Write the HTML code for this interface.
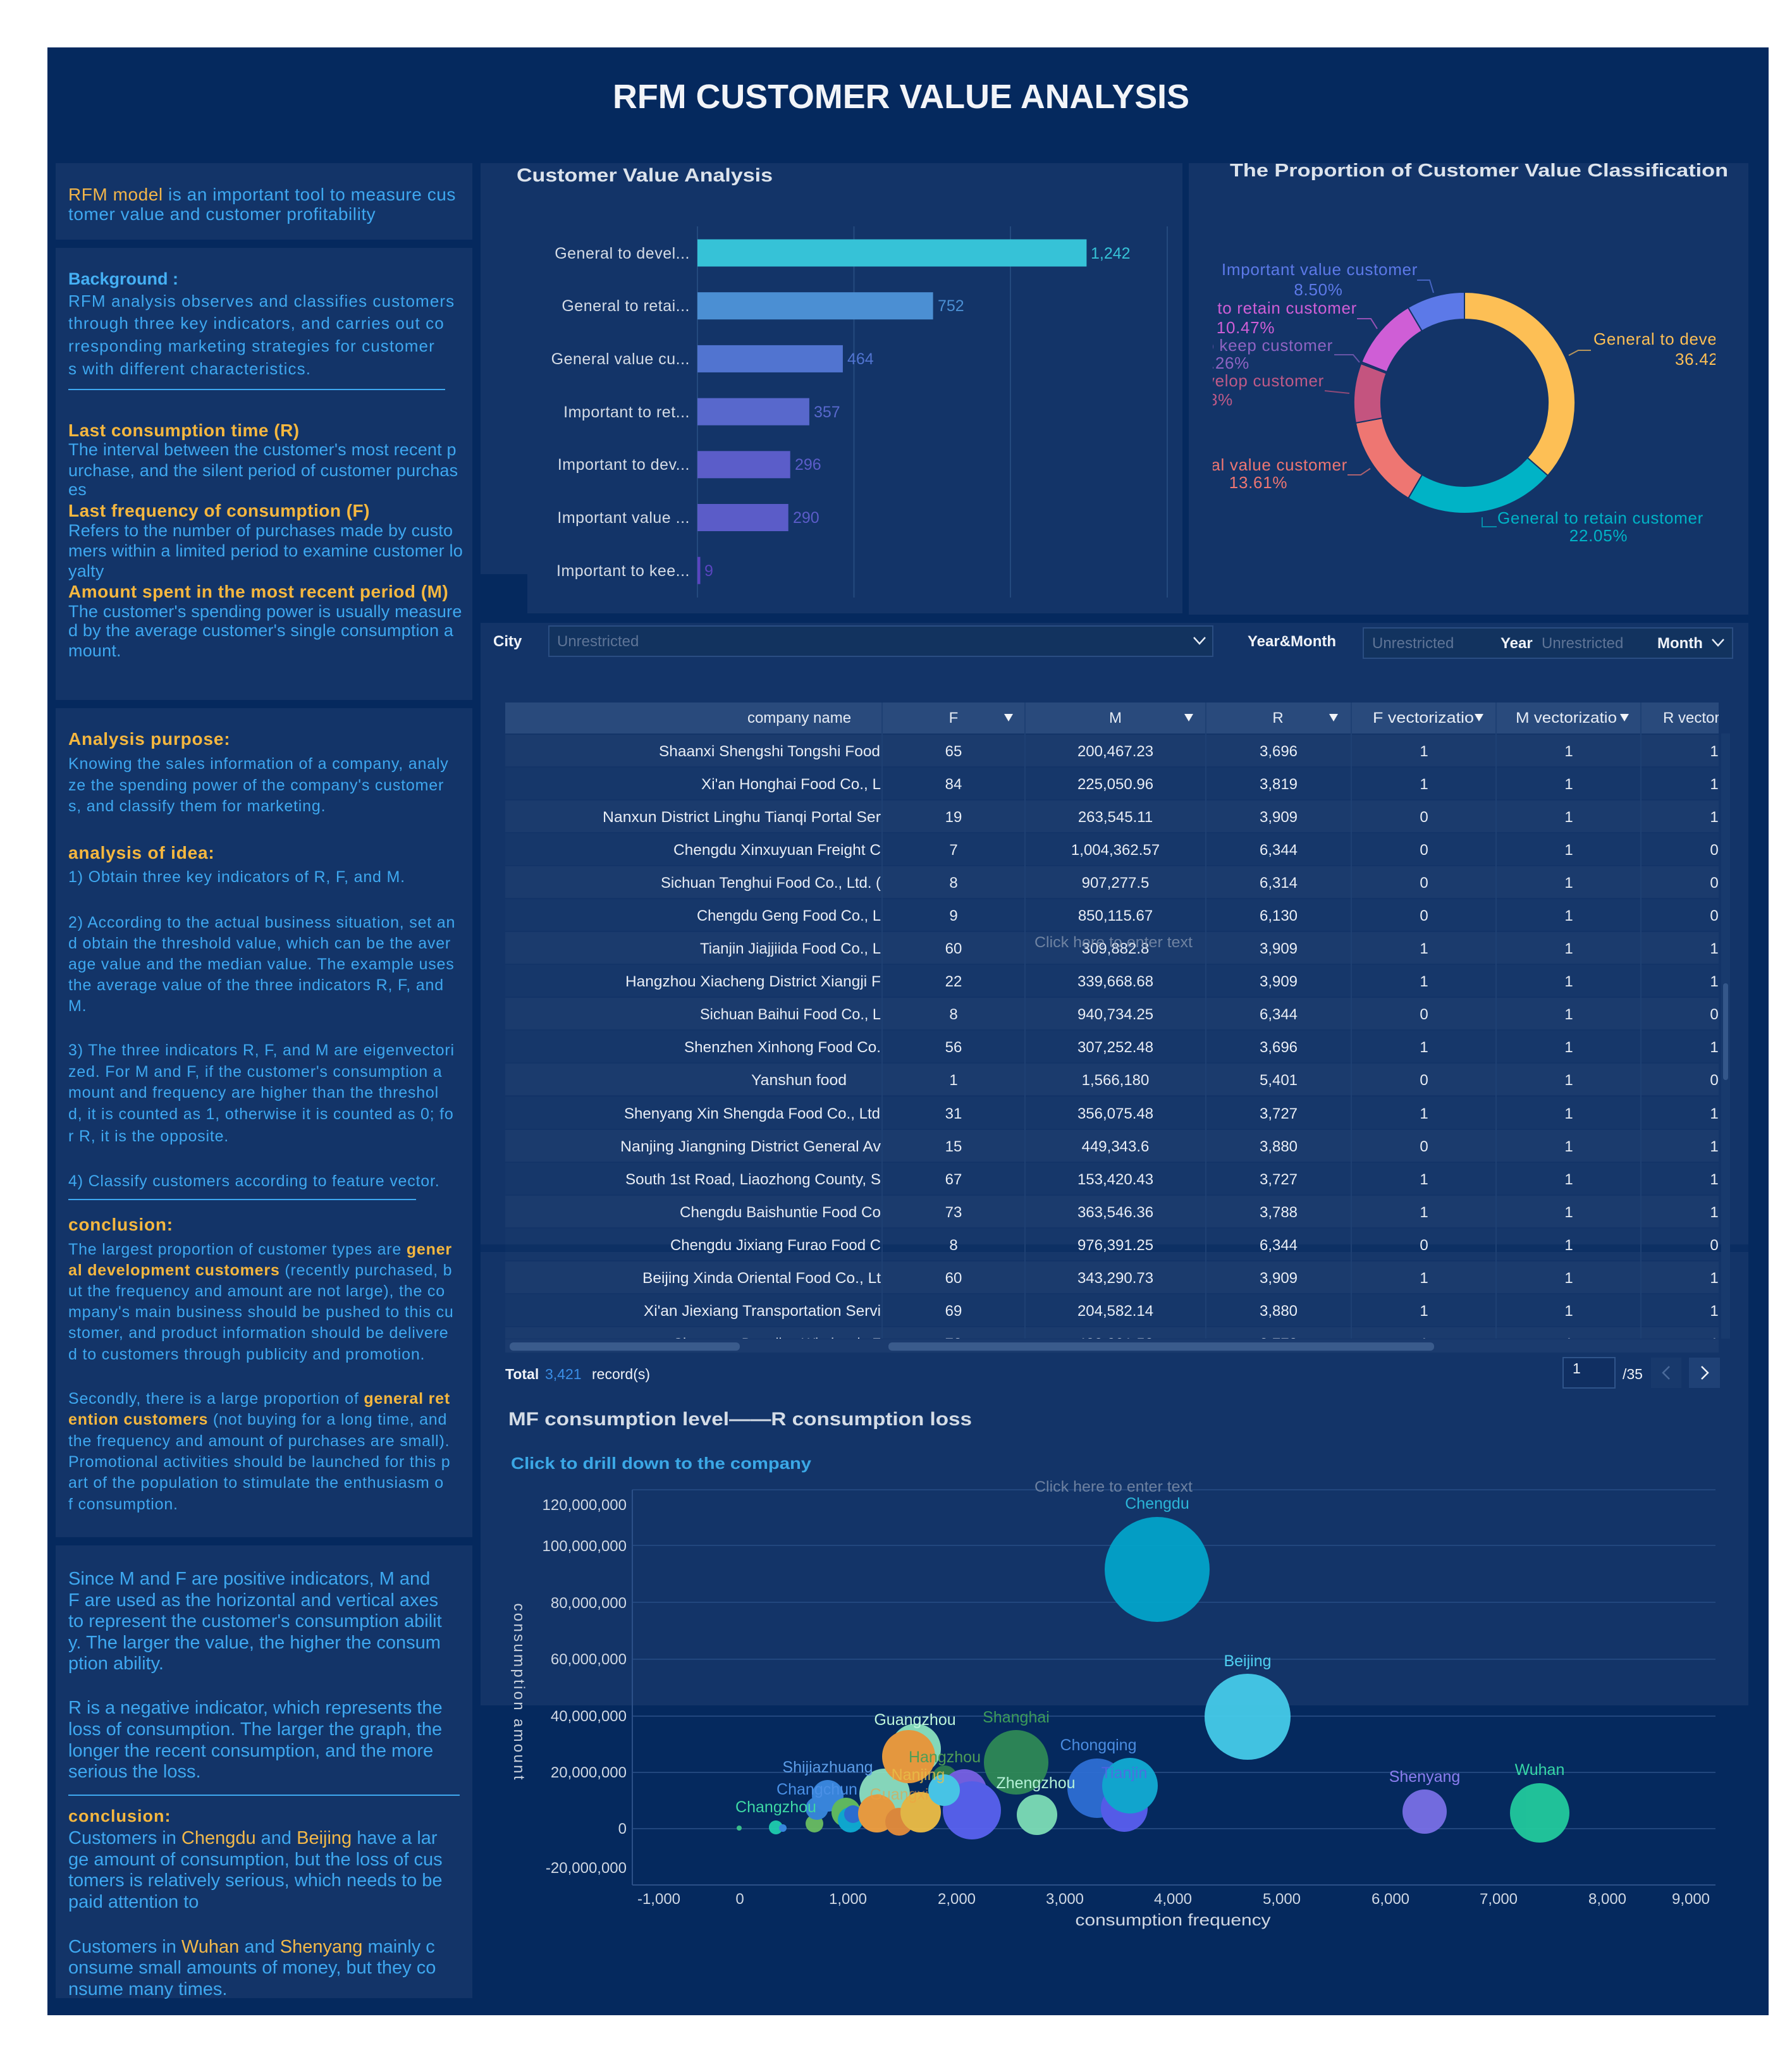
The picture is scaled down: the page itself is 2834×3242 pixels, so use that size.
<!DOCTYPE html>
<html><head><meta charset="utf-8"><title>RFM Customer Value Analysis</title>
<style>
html,body{margin:0;padding:0;background:#fff;}
svg{display:block;}
text{font-family:"Liberation Sans",Arial,sans-serif;}
</style></head><body>
<svg xmlns="http://www.w3.org/2000/svg" width="2834" height="3242" viewBox="0 0 2834 3242">
<defs>
<clipPath id="donutClip"><rect x="1918" y="380" width="795" height="520"/></clipPath>
<clipPath id="tblClip"><rect x="799" y="1160" width="1919" height="957"/></clipPath>
<clipPath id="nameClip"><rect x="799" y="1100" width="594" height="1017"/></clipPath>
<clipPath id="hdrClip"><rect x="799" y="1111" width="1919" height="49"/></clipPath>
</defs>
<rect width="2834" height="3242" fill="#ffffff"/>
<rect x="75" y="75" width="2722" height="3112" fill="#05295E"/>

<!-- Title -->
<text x="1425" y="171" font-size="54" font-weight="bold" fill="#F2F4F8" text-anchor="middle" textLength="912" lengthAdjust="spacingAndGlyphs">RFM CUSTOMER VALUE ANALYSIS</text>

<!-- Left panels -->
<rect x="88" y="258" width="659" height="121" fill="#133468"/>
<rect x="88" y="392" width="659" height="715" fill="#133468"/>
<rect x="88" y="1120" width="659" height="1311" fill="#133468"/>
<rect x="88" y="2444" width="659" height="716" fill="#133468"/>

<!-- Right panels -->
<rect x="760" y="258" width="1110" height="650" fill="#133468"/>
<rect x="834" y="258" width="1036" height="712" fill="#133468"/>
<rect x="1880" y="258" width="885" height="714" fill="#133468"/>
<rect x="760" y="985" width="2005" height="983" fill="#133468"/>
<rect x="760" y="1980" width="2005" height="717" fill="#133468"/>

<!-- Panel 1 text -->
<g font-size="28" letter-spacing="0.55" fill="#3EA8F0">
<text x="108" y="317"><tspan fill="#F2B54A">RFM model</tspan> is an important tool to measure cus</text>
<text x="108" y="348">tomer value and customer profitability</text>
</g>

<!-- Panel 2 text -->
<text x="108" y="450" font-size="27" font-weight="bold" fill="#45B0F4">Background :</text>
<g font-size="26" letter-spacing="1.1" fill="#3EA8F0">
<text x="108" y="485">RFM analysis observes and classifies customers</text>
<text x="108" y="520">through three key indicators, and carries out co</text>
<text x="108" y="556">rresponding marketing strategies for customer</text>
<text x="108" y="592">s with different characteristics.</text>
</g>
<line x1="108" y1="616" x2="704" y2="616" stroke="#3EA8F0" stroke-width="2"/>
<g font-size="28" font-weight="bold" letter-spacing="0.5" fill="#F5B73F">
<text x="108" y="690">Last consumption time (R)</text>
<text x="108" y="817">Last frequency of consumption (F)</text>
<text x="108" y="945">Amount spent in the most recent period (M)</text>
</g>
<g font-size="27" letter-spacing="0.2" fill="#3EA8F0">
<text x="108" y="720">The interval between the customer's most recent p</text>
<text x="108" y="753">urchase, and the silent period of customer purchas</text>
<text x="108" y="783">es</text>
<text x="108" y="848">Refers to the number of purchases made by custo</text>
<text x="108" y="880">mers within a limited period to examine customer lo</text>
<text x="108" y="912">yalty</text>
<text x="108" y="976">The customer's spending power is usually measure</text>
<text x="108" y="1006">d by the average customer's single consumption a</text>
<text x="108" y="1038">mount.</text>
</g>

<!-- Panel 3 text -->
<g font-size="28" font-weight="bold" letter-spacing="0.8" fill="#F5B73F">
<text x="108" y="1178">Analysis purpose:</text>
<text x="108" y="1358">analysis of idea:</text>
<text x="108" y="1946">conclusion:</text>
</g>
<g font-size="25" letter-spacing="0.8" fill="#3EA8F0">
<text x="108" y="1216">Knowing the sales information of a company, analy</text>
<text x="108" y="1250">ze the spending power of the company's customer</text>
<text x="108" y="1283">s, and classify them for marketing.</text>
<text x="108" y="1395">1) Obtain three key indicators of R, F, and M.</text>
<text x="108" y="1467">2) According to the actual business situation, set an</text>
<text x="108" y="1500">d obtain the threshold value, which can be the aver</text>
<text x="108" y="1533">age value and the median value. The example uses</text>
<text x="108" y="1566">the average value of the three indicators R, F, and</text>
<text x="108" y="1599">M.</text>
<text x="108" y="1669">3) The three indicators R, F, and M are eigenvectori</text>
<text x="108" y="1703">zed. For M and F, if the customer's consumption a</text>
<text x="108" y="1736">mount and frequency are higher than the threshol</text>
<text x="108" y="1770">d, it is counted as 1, otherwise it is counted as 0; fo</text>
<text x="108" y="1805">r R, it is the opposite.</text>
<text x="108" y="1876">4) Classify customers according to feature vector.</text>
<text x="108" y="1984">The largest proportion of customer types are <tspan fill="#F5B73F" font-weight="bold">gener</tspan></text>
<text x="108" y="2017"><tspan fill="#F5B73F" font-weight="bold">al development customers</tspan> (recently purchased, b</text>
<text x="108" y="2050">ut the frequency and amount are not large), the co</text>
<text x="108" y="2083">mpany's main business should be pushed to this cu</text>
<text x="108" y="2116">stomer, and product information should be delivere</text>
<text x="108" y="2150">d to customers through publicity and promotion.</text>
<text x="108" y="2220">Secondly, there is a large proportion of <tspan fill="#F5B73F" font-weight="bold">general ret</tspan></text>
<text x="108" y="2253"><tspan fill="#F5B73F" font-weight="bold">ention customers</tspan> (not buying for a long time, and</text>
<text x="108" y="2287">the frequency and amount of purchases are small).</text>
<text x="108" y="2320">Promotional activities should be launched for this p</text>
<text x="108" y="2353">art of the population to stimulate the enthusiasm o</text>
<text x="108" y="2387">f consumption.</text>
</g>
<line x1="108" y1="1897" x2="658" y2="1897" stroke="#3EA8F0" stroke-width="2"/>

<!-- Panel 4 text -->
<g font-size="29" fill="#3EA8F0">
<text x="108" y="2506">Since M and F are positive indicators, M and</text>
<text x="108" y="2540">F are used as the horizontal and vertical axes</text>
<text x="108" y="2573">to represent the customer's consumption abilit</text>
<text x="108" y="2607">y. The larger the value, the higher the consum</text>
<text x="108" y="2640">ption ability.</text>
<text x="108" y="2710">R is a negative indicator, which represents the</text>
<text x="108" y="2744">loss of consumption. The larger the graph, the</text>
<text x="108" y="2778">longer the recent consumption, and the more</text>
<text x="108" y="2811">serious the loss.</text>
<text x="108" y="2916">Customers in <tspan fill="#F2B94A">Chengdu</tspan> and <tspan fill="#F2B94A">Beijing</tspan> have a lar</text>
<text x="108" y="2950">ge amount of consumption, but the loss of cus</text>
<text x="108" y="2983">tomers is relatively serious, which needs to be</text>
<text x="108" y="3017">paid attention to</text>
<text x="108" y="3088">Customers in <tspan fill="#F2B94A">Wuhan</tspan> and <tspan fill="#F2B94A">Shenyang</tspan> mainly c</text>
<text x="108" y="3121">onsume small amounts of money, but they co</text>
<text x="108" y="3155">nsume many times.</text>
</g>
<line x1="108" y1="2839" x2="727" y2="2839" stroke="#3EA8F0" stroke-width="2"/>
<text x="108" y="2881" font-size="27" font-weight="bold" letter-spacing="1" fill="#F5B73F">conclusion:</text>

<!-- Bar chart -->
<text x="817" y="287" font-size="30" font-weight="bold" fill="#DCE3EC" textLength="405" lengthAdjust="spacingAndGlyphs">Customer Value Analysis</text>
<g stroke="#244A7E" stroke-width="2">
<line x1="1103" y1="358" x2="1103" y2="945"/>
<line x1="1350.5" y1="358" x2="1350.5" y2="945"/>
<line x1="1598" y1="358" x2="1598" y2="945"/>
<line x1="1846" y1="358" x2="1846" y2="945"/>
</g>
<rect x="1103" y="378.5" width="615.4" height="43" fill="#36C2D7"/>
<rect x="1103" y="462.2" width="372.6" height="43" fill="#4B8FD3"/>
<rect x="1103" y="545.9" width="229.9" height="43" fill="#5174D0"/>
<rect x="1103" y="629.6" width="176.9" height="43" fill="#5868CC"/>
<rect x="1103" y="713.3" width="146.7" height="43" fill="#5B5DC9"/>
<rect x="1103" y="797" width="143.7" height="43" fill="#5B5CC8"/>
<rect x="1103" y="880.7" width="4.5" height="43" fill="#5A45C0"/>
<g font-size="25" letter-spacing="0.5" fill="#D5DCE6" text-anchor="end">
<text x="1091" y="409">General to devel...</text>
<text x="1091" y="492">General to retai...</text>
<text x="1091" y="576">General value cu...</text>
<text x="1091" y="660">Important to ret...</text>
<text x="1091" y="743">Important to dev...</text>
<text x="1091" y="827">Important value ...</text>
<text x="1091" y="911">Important to kee...</text>
</g>
<g font-size="25">
<text x="1725" y="409" fill="#36C2D7">1,242</text>
<text x="1483" y="492" fill="#4B8FD3">752</text>
<text x="1340" y="576" fill="#5174D0">464</text>
<text x="1287" y="660" fill="#5868CC">357</text>
<text x="1257" y="743" fill="#5B5DC9">296</text>
<text x="1254" y="827" fill="#5B5CC8">290</text>
<text x="1114" y="911" fill="#5A45C0">9</text>
</g>

<!-- Donut -->
<text x="1945" y="279" font-size="29" font-weight="bold" fill="#DCE3EC" textLength="788" lengthAdjust="spacingAndGlyphs">The Proportion of Customer Value Classification</text>
<g stroke="#133468" stroke-width="2">
<path d="M2316,462 A175,175 0 0 1 2447.9,752.1 L2415.5,723.8 A132,132 0 0 0 2316,505 Z" fill="#FDBF55"/>
<path d="M2447.9,752.1 A175,175 0 0 1 2227.2,787.8 L2249.0,750.7 A132,132 0 0 0 2415.5,723.8 Z" fill="#00B3C6"/>
<path d="M2227.2,787.8 A175,175 0 0 1 2143.9,668.9 L2186.2,661.1 A132,132 0 0 0 2249.0,750.7 Z" fill="#EE7672"/>
<path d="M2143.9,668.9 A175,175 0 0 1 2152.3,575.0 L2192.6,590.3 A132,132 0 0 0 2186.2,661.1 Z" fill="#C4547F"/>
<path d="M2152.3,575.0 A175,175 0 0 1 2153.4,572.4 L2193.3,588.2 A132,132 0 0 0 2192.6,590.3 Z" fill="#40307F"/>
<path d="M2153.4,572.4 A175,175 0 0 1 2226.9,486.4 L2248.8,523.4 A132,132 0 0 0 2193.3,588.2 Z" fill="#CF5ED6"/>
<path d="M2226.9,486.4 A175,175 0 0 1 2316,462 L2316,505 A132,132 0 0 0 2248.8,523.4 Z" fill="#5C79E8"/>
</g>
<g fill="none" stroke-width="2" opacity="0.7">
<polyline points="2241,443 2261,443 2267,463" stroke="#5C79E8"/>
<polyline points="2146,504 2168,504 2178,520" stroke="#CF5ED6"/>
<polyline points="2110,561 2140,561 2150,573" stroke="#8E63C2"/>
<polyline points="2095,618 2134,622" stroke="#C4547F"/>
<polyline points="2131,751 2152,751 2167,741" stroke="#EE7672"/>
<polyline points="2481,562 2496,554 2516,554" stroke="#FDBF55"/>
<polyline points="2344,818 2344,833 2367,833" stroke="#00B3C6"/>
</g>
<g clip-path="url(#donutClip)" font-size="26" letter-spacing="0.7">
<text x="2087" y="435" text-anchor="middle" fill="#5C79E8">Important value customer</text>
<text x="2085" y="467" text-anchor="middle" fill="#5C79E8">8.50%</text>
<text x="2146" y="496" text-anchor="end" fill="#CF5ED6">Important to retain customer</text>
<text x="1970" y="527" text-anchor="middle" fill="#CF5ED6">10.47%</text>
<text x="2108" y="555" text-anchor="end" fill="#8E63C2">Important to keep customer</text>
<text x="1976" y="583" text-anchor="end" fill="#8E63C2">0.26%</text>
<text x="2094" y="611" text-anchor="end" fill="#BF5A88">Important to develop customer</text>
<text x="1950" y="641" text-anchor="end" fill="#BF5A88">8.68%</text>
<text x="2131" y="744" text-anchor="end" fill="#EE7672">General value customer</text>
<text x="1990" y="772" text-anchor="middle" fill="#EE7672">13.61%</text>
<text x="2520" y="545" fill="#FDBF55">General to develop customer</text>
<text x="2649" y="577" fill="#FDBF55">36.42%</text>
<text x="2368" y="828" fill="#00B3C6">General to retain customer</text>
<text x="2528" y="856" text-anchor="middle" fill="#00B3C6">22.05%</text>
</g>

<!-- Filter row -->
<text x="780" y="1022" font-size="24" font-weight="bold" fill="#F0F3F8">City</text>
<rect x="868" y="990" width="1050" height="48" fill="#12335F" stroke="#2A4D82" stroke-width="2"/>
<text x="881" y="1022" font-size="24" fill="#5E7496">Unrestricted</text>
<polyline points="1888,1008 1897,1018 1906,1008" fill="none" stroke="#E6ECF5" stroke-width="2.5"/>
<text x="1973" y="1022" font-size="24" font-weight="bold" fill="#F0F3F8">Year&amp;Month</text>
<rect x="2156" y="993" width="584" height="48" fill="#12335F" stroke="#2A4D82" stroke-width="2"/>
<text x="2170" y="1025" font-size="24" fill="#5E7496">Unrestricted</text>
<text x="2373" y="1025" font-size="24" font-weight="bold" fill="#F0F3F8">Year</text>
<text x="2438" y="1025" font-size="24" fill="#5E7496">Unrestricted</text>
<text x="2621" y="1025" font-size="24" font-weight="bold" fill="#F0F3F8">Month</text>
<polyline points="2708,1011 2717,1021 2726,1011" fill="none" stroke="#E6ECF5" stroke-width="2.5"/>

<!-- band between table panel and scatter panel -->
<rect x="760" y="1968" width="2005" height="12" fill="#0A2D62"/>

<!-- Table header -->
<rect x="799" y="1111" width="1919" height="49" fill="#294A7C"/>
<g stroke="#1E4073" stroke-width="2">
<line x1="1395" y1="1111" x2="1395" y2="1160"/>
<line x1="1621" y1="1111" x2="1621" y2="1160"/>
<line x1="1907" y1="1111" x2="1907" y2="1160"/>
<line x1="2137" y1="1111" x2="2137" y2="1160"/>
<line x1="2366" y1="1111" x2="2366" y2="1160"/>
<line x1="2595" y1="1111" x2="2595" y2="1160"/>
</g>
<g clip-path="url(#hdrClip)" font-size="24" fill="#E6ECF5">
<text x="1264" y="1143" text-anchor="middle">company name</text>
<text x="1508" y="1143" text-anchor="middle">F</text>
<text x="1764" y="1143" text-anchor="middle">M</text>
<text x="2021" y="1143" text-anchor="middle">R</text>
<text x="2171" y="1143" textLength="160" lengthAdjust="spacingAndGlyphs">F vectorizatio</text>
<text x="2397" y="1143" textLength="160" lengthAdjust="spacingAndGlyphs">M vectorizatio</text>
<text x="2630" y="1143">R vector</text>
<polygon points="1588,1129 1602,1129 1595,1141" fill="#F0F3F8"/>
<polygon points="1873,1129 1887,1129 1880,1141" fill="#F0F3F8"/>
<polygon points="2102,1129 2116,1129 2109,1141" fill="#F0F3F8"/>
<polygon points="2332,1129 2346,1129 2339,1141" fill="#F0F3F8"/>
<polygon points="2562,1129 2576,1129 2569,1141" fill="#F0F3F8"/>
</g>

<!-- Table body -->
<g clip-path="url(#tblClip)">
<g>
<rect x="799" y="1162" width="1919" height="50" fill="#FFFFFF" fill-opacity="0.035"/>
<rect x="799" y="1214" width="1919" height="50" fill="#FFFFFF" fill-opacity="0.015"/>
<rect x="799" y="1266" width="1919" height="50" fill="#FFFFFF" fill-opacity="0.035"/>
<rect x="799" y="1318" width="1919" height="50" fill="#FFFFFF" fill-opacity="0.015"/>
<rect x="799" y="1370" width="1919" height="50" fill="#FFFFFF" fill-opacity="0.035"/>
<rect x="799" y="1422" width="1919" height="50" fill="#FFFFFF" fill-opacity="0.015"/>
<rect x="799" y="1474" width="1919" height="50" fill="#FFFFFF" fill-opacity="0.035"/>
<rect x="799" y="1526" width="1919" height="50" fill="#FFFFFF" fill-opacity="0.015"/>
<rect x="799" y="1578" width="1919" height="50" fill="#FFFFFF" fill-opacity="0.035"/>
<rect x="799" y="1630" width="1919" height="50" fill="#FFFFFF" fill-opacity="0.015"/>
<rect x="799" y="1682" width="1919" height="50" fill="#FFFFFF" fill-opacity="0.035"/>
<rect x="799" y="1735" width="1919" height="50" fill="#FFFFFF" fill-opacity="0.015"/>
<rect x="799" y="1787" width="1919" height="50" fill="#FFFFFF" fill-opacity="0.035"/>
<rect x="799" y="1839" width="1919" height="50" fill="#FFFFFF" fill-opacity="0.015"/>
<rect x="799" y="1891" width="1919" height="50" fill="#FFFFFF" fill-opacity="0.035"/>
<rect x="799" y="1943" width="1919" height="50" fill="#FFFFFF" fill-opacity="0.015"/>
<rect x="799" y="1995" width="1919" height="50" fill="#FFFFFF" fill-opacity="0.035"/>
<rect x="799" y="2047" width="1919" height="50" fill="#FFFFFF" fill-opacity="0.015"/>
<rect x="799" y="2099" width="1919" height="50" fill="#FFFFFF" fill-opacity="0.035"/>
</g>
<g stroke="#1E4073" stroke-width="2">
<line x1="1395" y1="1160" x2="1395" y2="2117"/>
<line x1="1621" y1="1160" x2="1621" y2="2117"/>
<line x1="1907" y1="1160" x2="1907" y2="2117"/>
<line x1="2137" y1="1160" x2="2137" y2="2117"/>
<line x1="2366" y1="1160" x2="2366" y2="2117"/>
<line x1="2595" y1="1160" x2="2595" y2="2117"/>
</g>
<g font-size="24" fill="#E8EDF5" clip-path="url(#nameClip)">
<text x="1042" y="1196" textLength="350" lengthAdjust="spacingAndGlyphs">Shaanxi Shengshi Tongshi Food</text>
<text x="1109" y="1248" textLength="284" lengthAdjust="spacingAndGlyphs">Xi'an Honghai Food Co., L</text>
<text x="953" y="1300" textLength="440" lengthAdjust="spacingAndGlyphs">Nanxun District Linghu Tianqi Portal Ser</text>
<text x="1065" y="1352" textLength="328" lengthAdjust="spacingAndGlyphs">Chengdu Xinxuyuan Freight C</text>
<text x="1045" y="1404" textLength="348" lengthAdjust="spacingAndGlyphs">Sichuan Tenghui Food Co., Ltd. (</text>
<text x="1102" y="1456" textLength="291" lengthAdjust="spacingAndGlyphs">Chengdu Geng Food Co., L</text>
<text x="1107" y="1508" textLength="286" lengthAdjust="spacingAndGlyphs">Tianjin Jiajjiida Food Co., L</text>
<text x="989" y="1560" textLength="404" lengthAdjust="spacingAndGlyphs">Hangzhou Xiacheng District Xiangji F</text>
<text x="1107" y="1612" textLength="286" lengthAdjust="spacingAndGlyphs">Sichuan Baihui Food Co., L</text>
<text x="1082" y="1664" textLength="311" lengthAdjust="spacingAndGlyphs">Shenzhen Xinhong Food Co.</text>
<text x="1188" y="1716" textLength="151" lengthAdjust="spacingAndGlyphs">Yanshun food</text>
<text x="987" y="1769" textLength="405" lengthAdjust="spacingAndGlyphs">Shenyang Xin Shengda Food Co., Ltd</text>
<text x="981" y="1821" textLength="412" lengthAdjust="spacingAndGlyphs">Nanjing Jiangning District General Av</text>
<text x="989" y="1873" textLength="404" lengthAdjust="spacingAndGlyphs">South 1st Road, Liaozhong County, S</text>
<text x="1075" y="1925" textLength="318" lengthAdjust="spacingAndGlyphs">Chengdu Baishuntie Food Co</text>
<text x="1060" y="1977" textLength="333" lengthAdjust="spacingAndGlyphs">Chengdu Jixiang Furao Food C</text>
<text x="1016" y="2029" textLength="377" lengthAdjust="spacingAndGlyphs">Beijing Xinda Oriental Food Co., Lt</text>
<text x="1018" y="2081" textLength="375" lengthAdjust="spacingAndGlyphs">Xi'an Jiexiang Transportation Servi</text>
<text x="1065" y="2133" textLength="328" lengthAdjust="spacingAndGlyphs">Shenyang Dongling Wholesale F</text>
</g>
<g font-size="24" fill="#E8EDF5" text-anchor="middle">
<text x="1508" y="1196">65</text><text x="1764" y="1196">200,467.23</text><text x="2022" y="1196">3,696</text><text x="2252" y="1196">1</text><text x="2481" y="1196">1</text><text x="2711" y="1196">1</text>
<text x="1508" y="1248">84</text><text x="1764" y="1248">225,050.96</text><text x="2022" y="1248">3,819</text><text x="2252" y="1248">1</text><text x="2481" y="1248">1</text><text x="2711" y="1248">1</text>
<text x="1508" y="1300">19</text><text x="1764" y="1300">263,545.11</text><text x="2022" y="1300">3,909</text><text x="2252" y="1300">0</text><text x="2481" y="1300">1</text><text x="2711" y="1300">1</text>
<text x="1508" y="1352">7</text><text x="1764" y="1352">1,004,362.57</text><text x="2022" y="1352">6,344</text><text x="2252" y="1352">0</text><text x="2481" y="1352">1</text><text x="2711" y="1352">0</text>
<text x="1508" y="1404">8</text><text x="1764" y="1404">907,277.5</text><text x="2022" y="1404">6,314</text><text x="2252" y="1404">0</text><text x="2481" y="1404">1</text><text x="2711" y="1404">0</text>
<text x="1508" y="1456">9</text><text x="1764" y="1456">850,115.67</text><text x="2022" y="1456">6,130</text><text x="2252" y="1456">0</text><text x="2481" y="1456">1</text><text x="2711" y="1456">0</text>
<text x="1508" y="1508">60</text><text x="1764" y="1508">309,882.8</text><text x="2022" y="1508">3,909</text><text x="2252" y="1508">1</text><text x="2481" y="1508">1</text><text x="2711" y="1508">1</text>
<text x="1508" y="1560">22</text><text x="1764" y="1560">339,668.68</text><text x="2022" y="1560">3,909</text><text x="2252" y="1560">1</text><text x="2481" y="1560">1</text><text x="2711" y="1560">1</text>
<text x="1508" y="1612">8</text><text x="1764" y="1612">940,734.25</text><text x="2022" y="1612">6,344</text><text x="2252" y="1612">0</text><text x="2481" y="1612">1</text><text x="2711" y="1612">0</text>
<text x="1508" y="1664">56</text><text x="1764" y="1664">307,252.48</text><text x="2022" y="1664">3,696</text><text x="2252" y="1664">1</text><text x="2481" y="1664">1</text><text x="2711" y="1664">1</text>
<text x="1508" y="1716">1</text><text x="1764" y="1716">1,566,180</text><text x="2022" y="1716">5,401</text><text x="2252" y="1716">0</text><text x="2481" y="1716">1</text><text x="2711" y="1716">0</text>
<text x="1508" y="1769">31</text><text x="1764" y="1769">356,075.48</text><text x="2022" y="1769">3,727</text><text x="2252" y="1769">1</text><text x="2481" y="1769">1</text><text x="2711" y="1769">1</text>
<text x="1508" y="1821">15</text><text x="1764" y="1821">449,343.6</text><text x="2022" y="1821">3,880</text><text x="2252" y="1821">0</text><text x="2481" y="1821">1</text><text x="2711" y="1821">1</text>
<text x="1508" y="1873">67</text><text x="1764" y="1873">153,420.43</text><text x="2022" y="1873">3,727</text><text x="2252" y="1873">1</text><text x="2481" y="1873">1</text><text x="2711" y="1873">1</text>
<text x="1508" y="1925">73</text><text x="1764" y="1925">363,546.36</text><text x="2022" y="1925">3,788</text><text x="2252" y="1925">1</text><text x="2481" y="1925">1</text><text x="2711" y="1925">1</text>
<text x="1508" y="1977">8</text><text x="1764" y="1977">976,391.25</text><text x="2022" y="1977">6,344</text><text x="2252" y="1977">0</text><text x="2481" y="1977">1</text><text x="2711" y="1977">0</text>
<text x="1508" y="2029">60</text><text x="1764" y="2029">343,290.73</text><text x="2022" y="2029">3,909</text><text x="2252" y="2029">1</text><text x="2481" y="2029">1</text><text x="2711" y="2029">1</text>
<text x="1508" y="2081">69</text><text x="1764" y="2081">204,582.14</text><text x="2022" y="2081">3,880</text><text x="2252" y="2081">1</text><text x="2481" y="2081">1</text><text x="2711" y="2081">1</text>
<text x="1508" y="2133">78</text><text x="1764" y="2133">423,891.52</text><text x="2022" y="2133">3,778</text><text x="2252" y="2133">1</text><text x="2481" y="2133">1</text><text x="2711" y="2133">1</text>
</g>
</g>
<text x="1636" y="1498" font-size="24" fill="#8394AE" opacity="0.8" textLength="250" lengthAdjust="spacingAndGlyphs">Click here to enter text</text>

<!-- Scrollbars -->
<rect x="799" y="2118" width="1919" height="21" fill="#1B3B6E"/>
<rect x="806" y="2123" width="364" height="13" rx="6" fill="#3A5B8C"/>
<rect x="1405" y="2123" width="863" height="13" rx="6" fill="#3A5B8C"/>
<rect x="2722" y="1160" width="14" height="957" fill="#183A6D"/>
<rect x="2725" y="1555" width="8" height="153" rx="4" fill="#34578A"/>

<!-- Pagination -->
<text x="799" y="2181" font-size="23" font-weight="bold" fill="#F0F3F8">Total</text>
<text x="862" y="2181" font-size="23" fill="#3A8EE6">3,421</text>
<text x="936" y="2181" font-size="23" fill="#F0F3F8">record(s)</text>
<rect x="2472" y="2147" width="82" height="48" fill="#102F62" stroke="#2F548A" stroke-width="2"/>
<text x="2487" y="2172" font-size="23" fill="#F0F3F8">1</text>
<text x="2566" y="2181" font-size="23" fill="#F0F3F8">/35</text>
<rect x="2611" y="2147" width="48" height="48" fill="#18396C"/>
<polyline points="2640,2161 2630,2171 2640,2181" fill="none" stroke="#4A6A9A" stroke-width="2.5"/>
<rect x="2671" y="2147" width="49" height="48" fill="#1F4176"/>
<polyline points="2691,2161 2701,2171 2691,2181" fill="none" stroke="#F0F3F8" stroke-width="2.5"/>

<!-- Scatter titles -->
<text x="804" y="2254" font-size="30" font-weight="bold" fill="#D4DCE6" textLength="733" lengthAdjust="spacingAndGlyphs">MF consumption level——R consumption loss</text>
<text x="808" y="2323" font-size="26" font-weight="bold" fill="#3BA8E6" textLength="475" lengthAdjust="spacingAndGlyphs">Click to drill down to the company</text>

<!-- Scatter axes -->
<g stroke="#22477E" stroke-width="2">
<line x1="1000" y1="2356" x2="2713" y2="2356"/>
<line x1="1000" y1="2444" x2="2713" y2="2444"/>
<line x1="1000" y1="2534" x2="2713" y2="2534"/>
<line x1="1000" y1="2624" x2="2713" y2="2624"/>
<line x1="1000" y1="2714" x2="2713" y2="2714"/>
<line x1="1000" y1="2803" x2="2713" y2="2803"/>
<line x1="1000" y1="2892" x2="2713" y2="2892"/>
</g>
<g stroke="#2C5088" stroke-width="2">
<line x1="1000" y1="2356" x2="1000" y2="2981"/>
<line x1="1000" y1="2981" x2="2713" y2="2981"/>
</g>
<g font-size="24" fill="#D0D8E4" text-anchor="end">
<text x="991" y="2388">120,000,000</text>
<text x="991" y="2453">100,000,000</text>
<text x="991" y="2543">80,000,000</text>
<text x="991" y="2632">60,000,000</text>
<text x="991" y="2722">40,000,000</text>
<text x="991" y="2811">20,000,000</text>
<text x="991" y="2900">0</text>
<text x="991" y="2962">-20,000,000</text>
</g>
<g font-size="24" fill="#D0D8E4" text-anchor="middle">
<text x="1042" y="3011">-1,000</text>
<text x="1170" y="3011">0</text>
<text x="1341" y="3011">1,000</text>
<text x="1513" y="3011">2,000</text>
<text x="1684" y="3011">3,000</text>
<text x="1855" y="3011">4,000</text>
<text x="2027" y="3011">5,000</text>
<text x="2199" y="3011">6,000</text>
<text x="2370" y="3011">7,000</text>
<text x="2542" y="3011">8,000</text>
<text x="2674" y="3011">9,000</text>
</g>
<text x="1855" y="3045" font-size="26" fill="#D0D8E4" text-anchor="middle" textLength="309" lengthAdjust="spacingAndGlyphs">consumption frequency</text>
<text transform="translate(813,2675) rotate(90)" x="0" y="0" font-size="24" fill="#C8D0DC" text-anchor="middle" textLength="279" lengthAdjust="spacing">consumption amount</text>
<text x="1636" y="2359" font-size="24" fill="#8394AE" opacity="0.8" textLength="250" lengthAdjust="spacingAndGlyphs">Click here to enter text</text>

<!-- Bubbles -->
<g opacity="0.93">
<circle cx="1169" cy="2891" r="4" fill="#3CC88C"/>
<circle cx="1227" cy="2890" r="11" fill="#1FCFB0"/>
<circle cx="1238" cy="2891" r="6" fill="#3A8EE6"/>
<circle cx="1288" cy="2884" r="14" fill="#6CC062"/>
<circle cx="1292" cy="2860" r="18" fill="#3A8AE0"/>
<circle cx="1309" cy="2840" r="25" fill="#3C8BE4"/>
<circle cx="1338" cy="2866" r="23" fill="#66C25E"/>
<circle cx="1345" cy="2878" r="20" fill="#0FB0D6"/>
<circle cx="1349" cy="2869" r="14" fill="#2E72D8"/>
<circle cx="1399" cy="2837" r="40" fill="#8FE3C2"/>
<circle cx="1448" cy="2766" r="40" fill="#8DE6C0"/>
<circle cx="1437" cy="2778" r="42" fill="#F5A03C"/>
<circle cx="1387" cy="2868" r="30" fill="#F7A23E"/>
<circle cx="1422" cy="2881" r="22" fill="#EB8F3A"/>
<circle cx="1456" cy="2866" r="32" fill="#F2C045"/>
<circle cx="1494" cy="2812" r="20" fill="#2F8050"/>
<circle cx="1525" cy="2834" r="36" fill="#7A62E6"/>
<circle cx="1537" cy="2863" r="46" fill="#5A63F2"/>
<circle cx="1493" cy="2831" r="25" fill="#4CCFF0"/>
<circle cx="1607" cy="2787" r="51" fill="#2F8A56"/>
<circle cx="1640" cy="2870" r="32" fill="#7FE0B8"/>
<circle cx="1735" cy="2828" r="47" fill="#2E6FD6"/>
<circle cx="1778" cy="2860" r="37" fill="#5B5FF2"/>
<circle cx="1787" cy="2824" r="44" fill="#12AED6"/>
<circle cx="1830" cy="2482" r="83" fill="#02A6CB"/>
<circle cx="1973" cy="2715" r="68" fill="#46CDEC"/>
<circle cx="2253" cy="2865" r="35" fill="#7B70E8"/>
<circle cx="2435" cy="2867" r="47" fill="#22CC9E"/>
</g>
<g font-size="25" text-anchor="middle">
<text x="1830" y="2386" fill="#2BB5D8">Chengdu</text>
<text x="1973" y="2635" fill="#4FD0F0">Beijing</text>
<text x="1607" y="2724" fill="#3D9C5A">Shanghai</text>
<text x="1447" y="2728" fill="#BDF5DA">Guangzhou</text>
<text x="1494" y="2787" fill="#4E9E56">Hangzhou</text>
<text x="1452" y="2815" fill="#E8C048" opacity="0.8">Nanjing</text>
<text x="1422" y="2846" fill="#F0A040" opacity="0.6">Guangxi</text>
<text x="1309" y="2803" fill="#5C9DE8">Shijiazhuang</text>
<text x="1292" y="2838" fill="#4A90E6">Changchun</text>
<text x="1227" y="2866" fill="#3ED8A4">Changzhou</text>
<text x="1638" y="2828" fill="#B5F2D8">Zhengzhou</text>
<text x="1737" y="2768" fill="#4A8CE0">Chongqing</text>
<text x="1778" y="2812" fill="#5A62E8" opacity="0.8">Tianjin</text>
<text x="2253" y="2818" fill="#8C7EF0">Shenyang</text>
<text x="2435" y="2807" fill="#36D6A6">Wuhan</text>
</g>
</svg>
</body></html>
